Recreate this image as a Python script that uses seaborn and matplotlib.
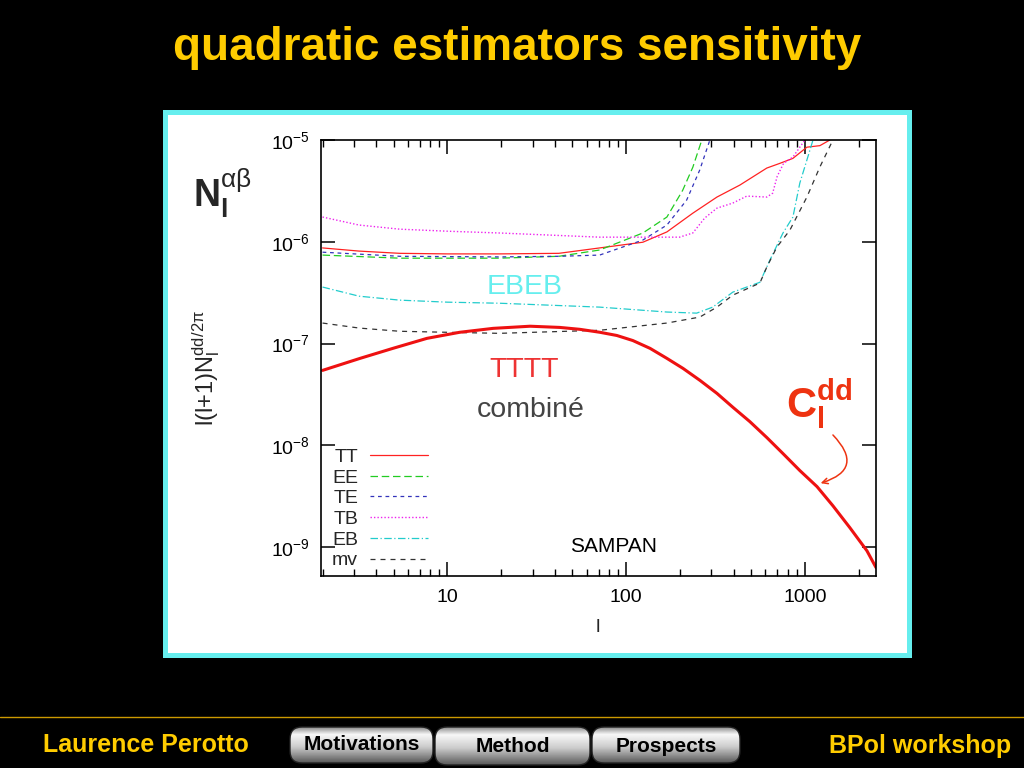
import numpy as np
import matplotlib
matplotlib.use("Agg")
import matplotlib.pyplot as plt
import seaborn as sb
from matplotlib import font_manager
from matplotlib.patches import Rectangle, FancyBboxPatch
from matplotlib.ticker import FixedLocator, FuncFormatter, NullFormatter, NullLocator, LogFormatterMathtext

# ---- data (l, l(l+1)N_l/2pi) ----
tt_l = [2, 3.2, 5.4, 10, 19.5, 42, 71, 124, 169, 236, 322, 433, 612, 725, 857, 1026, 1213, 1380]
tt_n = [8.7e-7, 8.1e-7, 7.7e-7, 7.6e-7, 7.6e-7, 7.7e-7, 8.7e-7, 9.9e-7, 1.25e-6, 1.91e-6,
        2.75e-6, 3.61e-6, 5.3e-6, 5.9e-6, 6.6e-6, 8.5e-6, 8.8e-6, 1.0e-5]

ee_l = [2, 5.4, 19.5, 42, 71, 124, 169, 207, 236, 265]
ee_n = [7.4e-7, 6.9e-7, 6.9e-7, 7.2e-7, 8.3e-7, 1.22e-6, 1.75e-6, 3.2e-6, 5.4e-6, 1.0e-5]

te_l = [2, 5.4, 19.5, 42, 71, 124, 169, 218, 258, 294]
te_n = [7.9e-7, 7.2e-7, 7.1e-7, 7.2e-7, 7.4e-7, 1.04e-6, 1.46e-6, 2.57e-6, 5.07e-6, 1.0e-5]

tb_l = [2, 3.2, 5.4, 10, 19.5, 71, 199, 236, 275, 322, 395, 473, 612, 660, 700, 760, 857, 1000]
tb_n = [1.75e-6, 1.46e-6, 1.33e-6, 1.27e-6, 1.22e-6, 1.11e-6, 1.11e-6, 1.22e-6, 1.71e-6, 2.14e-6,
        2.40e-6, 2.81e-6, 2.75e-6, 3.0e-6, 4.4e-6, 5.9e-6, 6.8e-6, 1.0e-5]

eb_l = [2, 3.2, 5.4, 10, 19.5, 71, 169, 248, 305, 395, 560, 637, 754, 857, 937, 1026, 1110]
eb_n = [3.59e-7, 2.92e-7, 2.67e-7, 2.55e-7, 2.49e-7, 2.28e-7, 2.04e-7, 1.99e-7, 2.28e-7, 3.2e-7,
        4.0e-7, 6.6e-7, 1.22e-6, 1.75e-6, 3.78e-6, 6.35e-6, 1.0e-5]

mv_l = [2, 3.2, 5.4, 10, 19.5, 71, 169, 258, 322, 395, 560, 612, 697, 824, 1026, 1213, 1435]
mv_n = [1.59e-7, 1.42e-7, 1.32e-7, 1.29e-7, 1.26e-7, 1.35e-7, 1.59e-7, 1.82e-7, 2.28e-7, 2.99e-7,
        3.93e-7, 5.64e-7, 8.87e-7, 1.30e-6, 2.75e-6, 5.43e-6, 1.0e-5]

cdd_l = [2, 3.24, 4.95, 7.68, 11.7, 18, 29, 42.6, 55, 71.3, 88.7, 109, 136, 169, 208, 259, 322,
         396, 492, 613, 754, 937, 1169, 1434, 1786, 2224, 2500]
cdd_n = [5.45e-8, 7.15e-8, 8.97e-8, 1.125e-7, 1.29e-7, 1.41e-7, 1.48e-7, 1.44e-7, 1.38e-7, 1.29e-7,
         1.20e-7, 1.07e-7, 8.97e-8, 7.15e-8, 5.70e-8, 4.34e-8, 3.24e-8, 2.36e-8, 1.71e-8, 1.19e-8,
         8.3e-9, 5.65e-9, 3.93e-9, 2.55e-9, 1.55e-9, 9.2e-10, 6.3e-10]

x_ticks = [10, 100, 1000]
y_ticks = [1e-9, 1e-8, 1e-7, 1e-6, 1e-5]
buttons = ["Motivations", "Method", "Prospects"]

sb.set_style("ticks")
plt.rcParams['font.family'] = ['Liberation Sans', 'DejaVu Sans']
plt.rcParams['mathtext.fontset'] = 'custom'
plt.rcParams['mathtext.rm'] = 'Liberation Sans'
plt.rcParams['mathtext.it'] = 'Liberation Sans:italic'
plt.rcParams['mathtext.bf'] = 'Liberation Sans:bold'

have = {f.name for f in font_manager.fontManager.ttflist}
narrow = 'Liberation Sans Narrow' in have
foot_fam = ['Liberation Sans Narrow', 'Liberation Sans'] if narrow else ['Liberation Sans']
foot_size = 22 if narrow else 18
btn_size = 20 if narrow else 15

fig = plt.figure(figsize=(10.24, 7.68), dpi=100, facecolor='black')

# background axes in pixel coordinates
bg = fig.add_axes([0, 0, 1, 1], zorder=0)
bg.set_xlim(0, 1024)
bg.set_ylim(768, 0)
bg.axis('off')

gold = "#FFCC00"
bg.text(517, 48, "quadratic estimators sensitivity", color=gold, fontsize=33,
        fontweight='bold', ha='center', va='center')

# white panel with cyan frame
bg.add_patch(Rectangle((163, 110), 749, 548, facecolor="#66EEEE", edgecolor='none'))
bg.add_patch(Rectangle((168, 115), 739, 538, facecolor='white', edgecolor='none'))

# footer
bg.plot([0, 1024], [717, 717], color="#CC9900", lw=1)
bg.text(146, 745, "Laurence Perotto", color=gold, fontsize=foot_size, fontweight='bold',
        family=foot_fam, ha='center', va='center')
bg.text(920, 746, "BPol workshop", color=gold, fontsize=foot_size, fontweight='bold',
        family=foot_fam, ha='center', va='center')

prof = np.interp(np.linspace(0, 1, 60), [0, 0.2, 0.55, 1], [0.55, 0.97, 0.8, 0.35])
grad = np.tile(prof[:, None], (1, 10))
boxes = [(290, 727, 143, 36, 745), (435, 727, 155, 38, 747), (592, 727, 148, 36, 746)]
for name, (bx, by, bw, bh, ty) in zip(buttons, boxes):
    patch = FancyBboxPatch((bx, by), bw, bh, boxstyle="round,pad=0,rounding_size=12",
                           facecolor='none', edgecolor="#222222", lw=1)
    bg.add_patch(patch)
    im = bg.imshow(grad, extent=(bx, bx + bw, by + bh, by), cmap='gray', vmin=0, vmax=1,
                   aspect='auto', origin='upper', interpolation='bilinear')
    im.set_clip_path(patch)
    bg.text(bx + bw / 2, ty, name, color='black', fontsize=btn_size, fontweight='bold',
            family=foot_fam, ha='center', va='center')
bg.set_xlim(0, 1024)
bg.set_ylim(768, 0)

# side labels
bg.text(193, 193, r'$\mathbf{N}_\mathbf{l}^{\mathregular{αβ}}$', fontsize=27, ha='left', va='center')
bg.text(206, 368, r'l(l+1)N$_\mathregular{l}^\mathregular{dd}$$^{\mathregular{/2π}}$', fontsize=17,
        rotation=90, ha='center', va='center')
bg.text(598, 628, "l", fontsize=14, ha='center', va='center')

# annotations inside plot
bg.text(525, 287, "EBEB", color="#66EEEE", fontsize=20.5, ha='center', va='center')
bg.text(524, 370, "TTTT", color="#EE3333", fontsize=20.5, ha='center', va='center')
bg.text(531, 410, "combiné", color="#444444", fontsize=20.5, ha='center', va='center')
bg.text(614, 547, "SAMPAN", color='black', fontsize=15, ha='center', va='center')
bg.text(786, 404, r'$\mathbf{C}_\mathbf{l}^\mathbf{dd}$', color="#EE3311", fontsize=30,
        ha='left', va='center')
bg.annotate('', xy=(818, 484), xytext=(831, 433),
            arrowprops=dict(arrowstyle='->', color="#EE3311", lw=1.1,
                            connectionstyle='arc3,rad=-0.85'))

# main plot
ax = fig.add_axes([321 / 1024, 1 - 576 / 768, 555 / 1024, 436 / 768], zorder=2)
ax.set_facecolor('none')

curves = [
    ("TT", tt_l, tt_n, "#FF2222", '-', 0.9),
    ("EE", ee_l, ee_n, "#22CC22", (0, (6, 3)), 0.9),
    ("TE", te_l, te_n, "#3333BB", (0, (3, 3)), 0.9),
    ("TB", tb_l, tb_n, "#EE22EE", (0, (1, 1.5)), 1.0),
    ("EB", eb_l, eb_n, "#22CCCC", (0, (6, 2, 1, 2)), 0.9),
    ("mv", mv_l, mv_n, "#333333", (0, (4, 4)), 0.9),
]
for name, lx, ny, col, ls, lw in curves:
    sb.lineplot(x=lx, y=ny, ax=ax, color=col, linestyle=ls, lw=lw, label=name,
                sort=False, estimator=None)

sb.lineplot(x=cdd_l, y=cdd_n, ax=ax, color="#EE1111", lw=2.2, sort=False, estimator=None)

ax.set_xscale('log')
ax.set_yscale('log')
ax.set_xlim(1.96, 2500)
ax.set_ylim(5.2e-10, 1e-5)

ax.xaxis.set_major_locator(FixedLocator(x_ticks))
ax.xaxis.set_major_formatter(FuncFormatter(lambda v, p: f"{v:g}"))
ax.xaxis.set_minor_formatter(NullFormatter())
ax.yaxis.set_major_locator(FixedLocator(y_ticks))
ax.yaxis.set_major_formatter(LogFormatterMathtext())
ax.yaxis.set_minor_locator(NullLocator())

ax.tick_params(which='both', direction='in', top=True, right=True, colors='black')
ax.tick_params(which='major', length=10, width=1.1)
ax.tick_params(which='minor', length=5, width=1.0)
ax.tick_params(axis='x', labelsize=14, pad=9)
ax.tick_params(axis='y', labelsize=14, pad=8)
for sp in ax.spines.values():
    sp.set_color('black')
    sp.set_linewidth(1.2)
ax.set_xlabel("")
ax.set_ylabel("")

ax.legend(loc='lower left', bbox_to_anchor=(0.02, 0.015), markerfirst=False, frameon=False,
          fontsize=14, handlelength=3.0, labelspacing=0.16, borderaxespad=0, borderpad=0,
          handletextpad=0.6)

fig.savefig("out.png", dpi=100, facecolor='black')
